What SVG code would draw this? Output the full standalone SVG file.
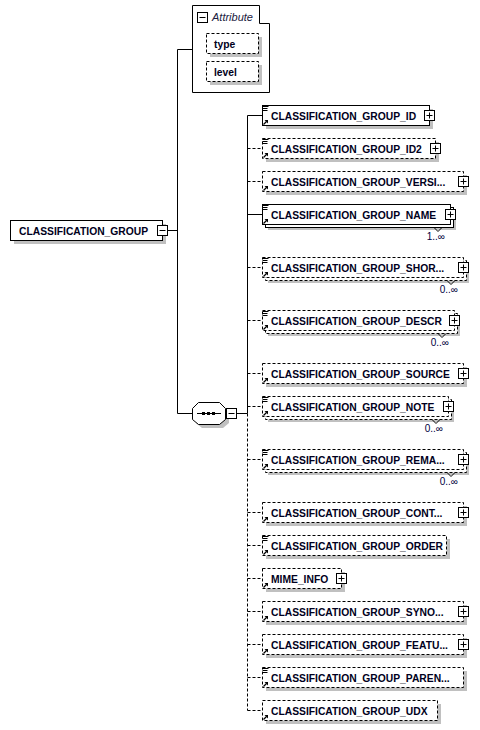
<svg xmlns="http://www.w3.org/2000/svg" xmlns:xlink="http://www.w3.org/1999/xlink" width="480" height="730" viewBox="0 0 480 730">
<style>
.box{fill:#fff;stroke:#000;stroke-width:1}
.opt{stroke-dasharray:3,2}
.sh{fill:#c0c0c0}
.ln{fill:none;stroke:#000;stroke-width:1}
.lbl{font-family:"Liberation Sans",Arial,sans-serif;font-weight:bold;font-size:10.3px;fill:#000020}
.mult{font-family:"Liberation Sans",Arial,sans-serif;font-size:10px;fill:#000040}
.att{font-family:"Liberation Sans",Arial,sans-serif;font-style:italic;font-size:11px;fill:#202040}
</style>
<defs>
<g id="plus"><rect x="-5" y="-5" width="10" height="10" fill="#fff" stroke="#000"/><path d="M-3,0H3M0,-3V3" stroke="#000"/></g>
<g id="minus"><rect x="-5" y="-5" width="10" height="10" fill="#fff" stroke="#000"/><path d="M-3,0H3" stroke="#000"/></g>
<g id="txt"><path d="M0.5,1.5h6M0.5,3.5h5M0.5,5.5h5" stroke="#000"/></g>
<g id="ref"><path d="M1.5,-1.5L4.5,-4.5" stroke="#000" stroke-width="1.2"/><path d="M6,-6L2.5,-6L6,-2.5Z" fill="#000"/></g>
</defs>
<rect width="480" height="730" fill="#fff"/>

<g id="connectors">
<path class="ln" d="M167.5,230.5H177.5M177.5,49.5V413.5M177.5,49.5H192.5M177.5,413.5H192.5"/>
<path class="ln" d="M236.5,413.5H247.5M247.5,115.5V413.5"/>
<path class="ln opt" d="M247.5,413.5V710.5"/>
<path class="ln" d="M247.5,115.5H262.5M247.5,214.5H262.5"/>
<path class="ln opt" d="M247.5,148.5H262.5M247.5,181.5H262.5M247.5,267.5H262.5M247.5,320.5H262.5M247.5,373.5H262.5M247.5,406.5H262.5M247.5,459.5H262.5M247.5,512.5H262.5M247.5,545.5H262.5M247.5,578.5H262.5M247.5,611.5H262.5M247.5,644.5H262.5M247.5,677.5H262.5M247.5,710.5H262.5"/>
</g>

<g id="attributes">
<path class="box" d="M192.5,5.5H259.5V23.5H269.5V92.5H192.5Z"/>
<use xlink:href="#minus" x="202.5" y="17.5"/>
<text class="att" x="212" y="21">Attribute</text>
<rect class="sh" x="210" y="37" width="52" height="20"/>
<rect class="box opt" x="206.5" y="33.5" width="52" height="20"/>
<text class="lbl" x="214" y="47.5">type</text>
<rect class="sh" x="210" y="65" width="52" height="20"/>
<rect class="box opt" x="206.5" y="61.5" width="52" height="20"/>
<text class="lbl" x="214" y="75.5">level</text>
</g>

<g id="root">
<rect class="sh" x="14" y="224" width="152" height="20"/>
<rect class="box" x="10.5" y="220.5" width="152" height="20"/>
<text class="lbl" x="19" y="234.5">CLASSIFICATION_GROUP</text>
<use xlink:href="#minus" x="162.5" y="230.5"/>
</g>

<g id="sequence">
<polygon class="sh" points="202,406 223,406 229,412 229,423 223,428 202,428 196,423 196,412"/>
<polygon class="box" points="198.5,402.5 219.5,402.5 225.5,408.5 225.5,419.5 219.5,424.5 198.5,424.5 192.5,419.5 192.5,408.5"/>
<path class="ln" d="M197,413.5H221"/>
<rect x="202" y="412" width="3" height="3" fill="#000"/>
<rect x="207" y="412" width="3" height="3" fill="#000"/>
<rect x="212" y="412" width="3" height="3" fill="#000"/>
<use xlink:href="#minus" x="231.5" y="413.5"/>
</g>

<g id="n_id">
<rect class="sh" x="266" y="109" width="167" height="20"/>
<rect class="box" x="262.5" y="105.5" width="167" height="20"/>
<use xlink:href="#txt" x="262" y="105"/><use xlink:href="#ref" x="262" y="126"/>
<text class="lbl" x="271" y="119.5">CLASSIFICATION_GROUP_ID</text>
<use xlink:href="#plus" x="429.5" y="115.5"/>
</g>

<g id="n_id2">
<rect class="sh" x="266" y="142" width="173" height="20"/>
<rect class="box opt" x="262.5" y="138.5" width="173" height="20"/>
<use xlink:href="#txt" x="262" y="138"/><use xlink:href="#ref" x="262" y="159"/>
<text class="lbl" x="271" y="152.5">CLASSIFICATION_GROUP_ID2</text>
<use xlink:href="#plus" x="435.5" y="148.5"/>
</g>

<g id="n_version">
<rect class="sh" x="266" y="175" width="201" height="20"/>
<rect class="box opt" x="262.5" y="171.5" width="201" height="20"/>
<use xlink:href="#ref" x="262" y="192"/>
<text class="lbl" x="271" y="185.5">CLASSIFICATION_GROUP_VERSI...</text>
<use xlink:href="#plus" x="463.5" y="181.5"/>
</g>

<g id="n_name">
<rect class="sh" x="268" y="210" width="188" height="20"/>
<rect class="box" x="265.5" y="207.5" width="188" height="20"/>
<rect class="box" x="262.5" y="204.5" width="188" height="20"/>
<use xlink:href="#txt" x="262" y="204"/><use xlink:href="#ref" x="262" y="225"/>
<text class="lbl" x="271" y="218.5">CLASSIFICATION_GROUP_NAME</text>
<use xlink:href="#plus" x="450.5" y="214.5"/>
<path class="ln" d="M434,227.5L438,231.5L442,227.5"/>
<text class="mult" x="445" y="240" text-anchor="end">1..∞</text>
</g>

<g id="n_short">
<rect class="sh" x="268" y="263" width="201" height="20"/>
<rect class="box opt" x="265.5" y="260.5" width="201" height="20"/>
<rect class="box opt" x="262.5" y="257.5" width="201" height="20"/>
<use xlink:href="#txt" x="262" y="257"/><use xlink:href="#ref" x="262" y="278"/>
<text class="lbl" x="271" y="271.5">CLASSIFICATION_GROUP_SHOR...</text>
<use xlink:href="#plus" x="463.5" y="267.5"/>
<path class="ln" d="M447,280.5L451,284.5L455,280.5"/>
<text class="mult" x="458" y="293" text-anchor="end">0..∞</text>
</g>

<g id="n_descr">
<rect class="sh" x="268" y="316" width="192" height="20"/>
<rect class="box opt" x="265.5" y="313.5" width="192" height="20"/>
<rect class="box opt" x="262.5" y="310.5" width="192" height="20"/>
<use xlink:href="#txt" x="262" y="310"/><use xlink:href="#ref" x="262" y="331"/>
<text class="lbl" x="271" y="324.5">CLASSIFICATION_GROUP_DESCR</text>
<use xlink:href="#plus" x="454.5" y="320.5"/>
<path class="ln" d="M438,333.5L442,337.5L446,333.5"/>
<text class="mult" x="449" y="346" text-anchor="end">0..∞</text>
</g>

<g id="n_source">
<rect class="sh" x="266" y="367" width="201" height="20"/>
<rect class="box opt" x="262.5" y="363.5" width="201" height="20"/>
<use xlink:href="#ref" x="262" y="384"/>
<text class="lbl" x="271" y="377.5">CLASSIFICATION_GROUP_SOURCE</text>
<use xlink:href="#plus" x="463.5" y="373.5"/>
</g>

<g id="n_note">
<rect class="sh" x="268" y="402" width="186" height="20"/>
<rect class="box opt" x="265.5" y="399.5" width="186" height="20"/>
<rect class="box opt" x="262.5" y="396.5" width="186" height="20"/>
<use xlink:href="#txt" x="262" y="396"/><use xlink:href="#ref" x="262" y="417"/>
<text class="lbl" x="271" y="410.5">CLASSIFICATION_GROUP_NOTE</text>
<use xlink:href="#plus" x="448.5" y="406.5"/>
<path class="ln" d="M432,419.5L436,423.5L440,419.5"/>
<text class="mult" x="443" y="432" text-anchor="end">0..∞</text>
</g>

<g id="n_remark">
<rect class="sh" x="268" y="455" width="201" height="20"/>
<rect class="box opt" x="265.5" y="452.5" width="201" height="20"/>
<rect class="box opt" x="262.5" y="449.5" width="201" height="20"/>
<use xlink:href="#txt" x="262" y="449"/><use xlink:href="#ref" x="262" y="470"/>
<text class="lbl" x="271" y="463.5">CLASSIFICATION_GROUP_REMA...</text>
<use xlink:href="#plus" x="463.5" y="459.5"/>
<path class="ln" d="M447,472.5L451,476.5L455,472.5"/>
<text class="mult" x="458" y="485" text-anchor="end">0..∞</text>
</g>

<g id="n_cont">
<rect class="sh" x="266" y="506" width="201" height="20"/>
<rect class="box opt" x="262.5" y="502.5" width="201" height="20"/>
<use xlink:href="#ref" x="262" y="523"/>
<text class="lbl" x="271" y="516.5">CLASSIFICATION_GROUP_CONT...</text>
<use xlink:href="#plus" x="463.5" y="512.5"/>
</g>

<g id="n_order">
<rect class="sh" x="266" y="539" width="184" height="20"/>
<rect class="box opt" x="262.5" y="535.5" width="184" height="20"/>
<use xlink:href="#txt" x="262" y="535"/><use xlink:href="#ref" x="262" y="556"/>
<text class="lbl" x="271" y="549.5">CLASSIFICATION_GROUP_ORDER</text>
</g>

<g id="n_mime">
<rect class="sh" x="266" y="572" width="79" height="20"/>
<rect class="box opt" x="262.5" y="568.5" width="79" height="20"/>
<use xlink:href="#ref" x="262" y="589"/>
<text class="lbl" x="271" y="582.5">MIME_INFO</text>
<use xlink:href="#plus" x="341.5" y="578.5"/>
</g>

<g id="n_synonyms">
<rect class="sh" x="266" y="605" width="201" height="20"/>
<rect class="box opt" x="262.5" y="601.5" width="201" height="20"/>
<use xlink:href="#ref" x="262" y="622"/>
<text class="lbl" x="271" y="615.5">CLASSIFICATION_GROUP_SYNO...</text>
<use xlink:href="#plus" x="463.5" y="611.5"/>
</g>

<g id="n_features">
<rect class="sh" x="266" y="638" width="201" height="20"/>
<rect class="box opt" x="262.5" y="634.5" width="201" height="20"/>
<use xlink:href="#ref" x="262" y="655"/>
<text class="lbl" x="271" y="648.5">CLASSIFICATION_GROUP_FEATU...</text>
<use xlink:href="#plus" x="463.5" y="644.5"/>
</g>

<g id="n_parent">
<rect class="sh" x="266" y="671" width="201" height="20"/>
<rect class="box opt" x="262.5" y="667.5" width="201" height="20"/>
<use xlink:href="#txt" x="262" y="667"/><use xlink:href="#ref" x="262" y="688"/>
<text class="lbl" x="271" y="681.5">CLASSIFICATION_GROUP_PAREN...</text>
</g>

<g id="n_udx">
<rect class="sh" x="266" y="704" width="175" height="20"/>
<rect class="box opt" x="262.5" y="700.5" width="175" height="20"/>
<use xlink:href="#ref" x="262" y="721"/>
<text class="lbl" x="271" y="714.5">CLASSIFICATION_GROUP_UDX</text>
</g>
</svg>
